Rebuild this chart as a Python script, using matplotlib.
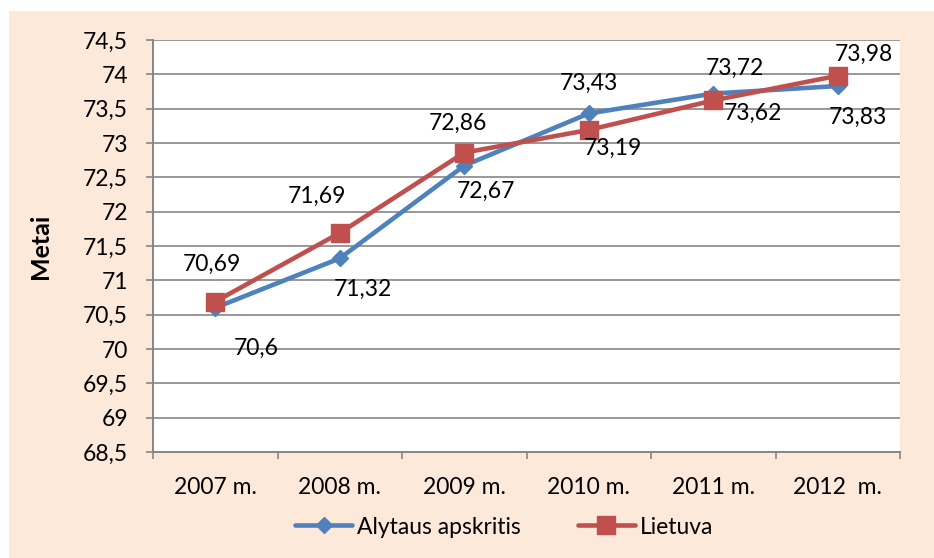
import matplotlib
matplotlib.use("Agg")
import matplotlib.pyplot as plt
from matplotlib.patches import Rectangle

categories = ["2007 m.", "2008 m.", "2009 m.", "2010 m.", "2011 m.", "2012  m."]
alytaus = [70.6, 71.32, 72.67, 73.43, 73.72, 73.83]
lietuva = [70.69, 71.69, 72.86, 73.19, 73.62, 73.98]
yticks = [68.5 + 0.5 * i for i in range(13)]
ylabel = "Metai"
series_names = ["Alytaus apskritis", "Lietuva"]

# label offsets in pixels (dx, dy with y downward in image)
off_a = [(41, 41), (23, 31), (22, 26), (0, -30), (22, -25), (20, 31)]
off_l = [(-3, -37), (-23, -37), (-6, -29), (24, 18), (40, 13), (26, -21)]

BLUE = "#4F81BD"
RED = "#C0504D"
GRAY = "#868686"
PEACH = "#FDE9D9"
FS = 16.5

plt.rcParams["font.family"] = ["Lato", "DejaVu Sans"]

W, H = 934, 558
fig = plt.figure(figsize=(W / 100, H / 100), dpi=100, facecolor="white")
fig.patches.append(Rectangle((9 / W, 0), 1 - 9 / W, 1 - 11 / H,
                             transform=fig.transFigure, facecolor=PEACH,
                             edgecolor="none", zorder=-10))

ax = fig.add_axes([153 / W, 1 - 452 / H, (900 - 153) / W, (452 - 40) / H])
ax.set_facecolor("white")

x = [i + 0.5 for i in range(len(categories))]
l1, = ax.plot(x, alytaus, color=BLUE, lw=3.3, marker="D", ms=8.5,
              mec=BLUE, mfc=BLUE, zorder=3, solid_capstyle="round")
l2, = ax.plot(x, lietuva, color=RED, lw=3.3, marker="s", ms=13.5,
              mec=RED, mfc=RED, zorder=4, solid_capstyle="round")

def fmt(v):
    s = f"{v:g}"
    return s.replace(".", ",")

for xi, v, (dx, dy) in zip(x, alytaus, off_a):
    ax.annotate(fmt(v), (xi, v), xytext=(dx, -dy), textcoords="offset pixels",
                ha="center", va="center", fontsize=FS, color="black", zorder=5)
for xi, v, (dx, dy) in zip(x, lietuva, off_l):
    ax.annotate(fmt(v), (xi, v), xytext=(dx, -dy), textcoords="offset pixels",
                ha="center", va="center", fontsize=FS, color="black", zorder=5)

ax.set_xlim(0, len(categories))
ax.set_ylim(yticks[0], yticks[-1])
ax.set_yticks(yticks)
ax.set_yticklabels([fmt(t) for t in yticks], fontsize=FS)
ax.set_xticks(range(len(categories) + 1))
ax.set_xticklabels([])
ax.set_xticks(x, minor=True)
ax.set_xticklabels(categories, minor=True, fontsize=FS)
ax.tick_params(axis="x", which="minor", length=0, pad=18)
ax.tick_params(axis="x", which="major", length=5, width=1.2, color=GRAY, direction="out")
ax.tick_params(axis="y", length=5, width=1.2, color=GRAY, direction="out", pad=13)

ax.grid(axis="y", color=GRAY, lw=1.2)
ax.set_axisbelow(True)
for s in ["top", "right"]:
    ax.spines[s].set_visible(False)
for s in ["left", "bottom"]:
    ax.spines[s].set_color(GRAY)
    ax.spines[s].set_linewidth(1.4)

ax.set_ylabel(ylabel, fontsize=18, fontweight="bold")
ax.yaxis.set_label_coords(-0.135, 0.5)

fig.legend([l1, l2], series_names, loc="center", bbox_to_anchor=(504 / W, 1 - 527 / H),
           ncol=2, frameon=False, fontsize=FS, handlelength=2.5, handletextpad=0.2,
           columnspacing=2.5, numpoints=1)

fig.savefig("out.png", dpi=100, facecolor="white")
